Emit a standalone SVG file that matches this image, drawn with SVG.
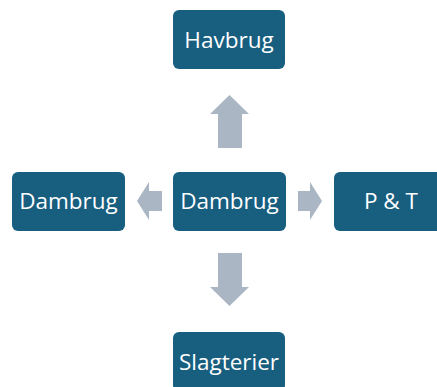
<svg xmlns="http://www.w3.org/2000/svg" width="437" height="387" viewBox="0 0 437 387">
<style>
.box{fill:#175e7f;}
.lbl{fill:#ffffff;font-family:"Open Sans","Liberation Sans",sans-serif;font-size:22.5px;text-anchor:middle;}
.arr{fill:#aab6c3;}
</style>
<rect width="437" height="387" fill="#ffffff"/>
<g id="connectors">
<polygon class="arr" points="218,148 218,114 210,114 229.5,95 249,114 242,114 242,148"/>
<polygon class="arr" points="218,253 242,253 242,287 249,287 229.5,306 210,287 218,287"/>
<polygon class="arr" points="162,191 149,191 149,182 137,201 149,220 149,211 162,211"/>
<polygon class="arr" points="298,191 310,191 310,182 322,201 310,220 310,211 298,211"/>
</g>
<g id="havbrug"><rect class="box" x="173" y="10" width="112" height="59" rx="6"/><text class="lbl" x="229" y="48">Havbrug</text></g>
<g id="dambrug-center"><rect class="box" x="173" y="172" width="113" height="59" rx="6"/><text class="lbl" x="229.5" y="209">Dambrug</text></g>
<g id="dambrug-left"><rect class="box" x="12" y="172" width="113" height="59" rx="6"/><text class="lbl" x="68.5" y="209">Dambrug</text></g>
<g id="pt"><rect class="box" x="334" y="172" width="113" height="59" rx="6"/><text class="lbl" x="391" y="209">P &amp; T</text></g>
<g id="slagterier"><rect class="box" x="173" y="332" width="112" height="59" rx="6"/><text class="lbl" x="229" y="370">Slagterier</text></g>
</svg>
